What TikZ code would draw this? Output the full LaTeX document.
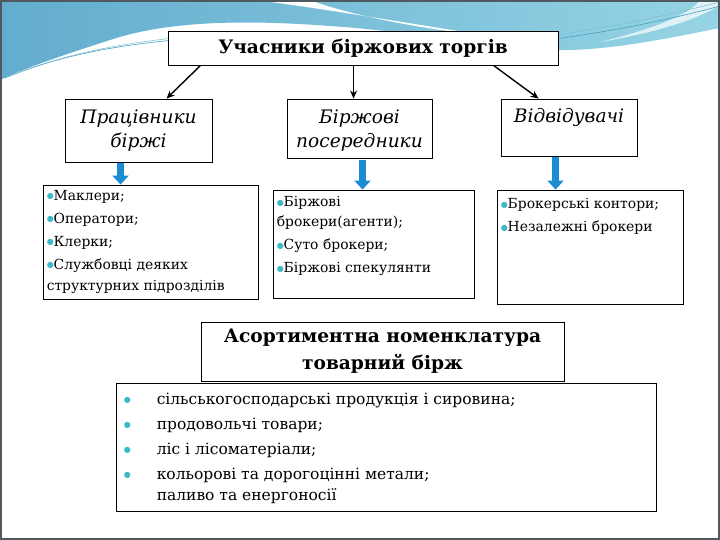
\documentclass[tikz,border=0pt]{standalone}
\usepackage{fontspec}
\setmainfont{DejaVu Serif}
\newfontfamily\symf{DejaVu Sans}
\usetikzlibrary{arrows.meta,calc}
\definecolor{bulc}{RGB}{60,185,200}
\definecolor{arrc}{RGB}{28,140,212}
\definecolor{wavea}{RGB}{98,172,206}
\definecolor{waveb}{RGB}{150,212,228}
\definecolor{wavel}{RGB}{70,160,190}
\definecolor{framec}{RGB}{80,88,96}
\newcommand{\bul}{{\symf\color{bulc}\fontsize{8}{8}\selectfont\raisebox{0.45ex}{●}}}
\begin{document}
\begin{tikzpicture}[x=1pt,y=-1pt,
  box/.style={draw=black, line width=0.9pt, fill=white, inner sep=0pt},
  conn/.style={draw=black, line width=1.4pt, -{Stealth[length=8pt,width=7pt]}},
  bluearrow/.style={draw=arrc, line width=7pt, -{Triangle[length=9pt,width=16pt]}},
  head/.style={font=\fontsize{18.6}{24}\selectfont\itshape, align=center, inner sep=0pt},
  bhead/.style={font=\fontsize{18.6}{27}\selectfont\bfseries, align=center, inner sep=0pt},
  items/.style={font=\fontsize{13.9}{23}\selectfont, align=left, anchor=north west, inner sep=0pt},
  bitems/.style={font=\fontsize{15.5}{25}\selectfont, align=left, anchor=north west, inner sep=0pt}]
\useasboundingbox (0,0) rectangle (720,540);
\fill[white] (0,0) rectangle (720,540);
% background wave
\shade[left color=wavea, right color=waveb]
  (0,0) -- (720,0) -- (720,28) .. controls (650,42) and (600,52) .. (540,50)
  .. controls (470,46) and (420,32) .. (330,26) .. controls (250,20) and (170,20) .. (110,40)
  .. controls (60,56) and (20,70) .. (0,80) -- cycle;
\fill[white] (255,0) .. controls (320,8) and (400,22) .. (490,36)
  .. controls (410,28) and (340,12) .. (310,0) -- cycle;
\fill[white, opacity=0.7] (700,0) .. controls (690,15) and (650,30) .. (600,42)
  .. controls (660,32) and (700,18) .. (720,5) -- (720,0) -- cycle;
\draw[wavel, line width=0.6pt] (5,78) .. controls (60,55) and (130,40) .. (240,36);
\draw[wavel!70!white, line width=0.5pt] (15,74) .. controls (70,52) and (140,38) .. (240,33);
\draw[wavel, line width=0.6pt] (470,47) .. controls (560,42) and (650,25) .. (720,6);
\draw[wavel!70!white, line width=0.5pt] (470,44) .. controls (560,38) and (650,20) .. (720,2);
% frame
\draw[framec, line width=2pt] (1,1) rectangle (719,539);

% nodes
\node[box, minimum width=390pt, minimum height=34pt, font=\fontsize{18.6}{22}\selectfont\bfseries] (title) at (363,48) {Учасники біржових торгів};
\node[box, minimum width=147pt, minimum height=63pt] (b1) at (138.5,130.5) {};
\node[head] (b1t) at (b1.center) {Працівники\\біржі};
\node[box, minimum width=145pt, minimum height=59pt] (b2) at (359.5,128.5) {};
\node[head] (b2t) at ($(b2.center)+(0,2)$) {Біржові\\посередники};
\node[box, minimum width=136pt, minimum height=57pt] (b3) at (569,127.5) {};
\node[head, anchor=north] (b3t) at ($(b3.north)+(0,10)$) {Відвідувачі};

\node[box, minimum width=215pt, minimum height=114pt] (l1) at (150.5,242) {};
\node[items] (l1t) at ($(l1.north west)+(4,6)$) {\bul Маклери;\\\bul Оператори;\\\bul Клерки;\\\bul Службовці деяких\\[-2pt]структурних підрозділів};
\node[box, minimum width=201pt, minimum height=108pt] (l2) at (373.5,244) {};
\node[items] (l2t) at ($(l2.north west)+(4,7)$) {\bul Біржові\\[-3pt]брокери(агенти);\\\bul Суто брокери;\\\bul Біржові спекулянти};
\node[box, minimum width=186pt, minimum height=114pt] (l3) at (590,247) {};
\node[items] (l3t) at ($(l3.north west)+(4,9)$) {\bul Брокерські контори;\\\bul Незалежні брокери};

\node[box, minimum width=540pt, minimum height=128pt] (l4) at (386,447) {};
\node[box, minimum width=363pt, minimum height=59pt] (t2) at (382.5,351.5) {};
\node[bhead] (t2t) at (t2.center) {Асортиментна номенклатура\\товарний бірж};
\node[bitems] (l4t) at ($(l4.north west)+(8,10)$) {\makebox[33pt][l]{\bul}сільськогосподарські продукція і сировина;\\
\makebox[33pt][l]{\bul}продовольчі товари;\\
\makebox[33pt][l]{\bul}ліс і лісоматеріали;\\
\makebox[33pt][l]{\bul}кольорові та дорогоцінні метали;\\[-4pt]
\makebox[33pt][l]{}паливо та енергоносії};

% connectors
\draw[conn] ($(title.south west)+(33,0)$) -- ($(b1.north west)+(102,0)$);
\draw[conn] ($(title.south west)+(186,0)$) -- ($(b2.north west)+(67,0)$);
\draw[conn] ($(title.south west)+(326,0)$) -- ($(b3.north west)+(38,0)$);
% blue arrows
\draw[bluearrow] ($(b1.south west)+(56,1)$) -- ($(l1.north west)+(78,0)$);
\draw[bluearrow] ($(b2.south west)+(76,2)$) -- ($(l2.north west)+(90,0)$);
\draw[bluearrow] ($(b3.south west)+(55,1)$) -- ($(l3.north west)+(59,0)$);
\end{tikzpicture}
\end{document}
